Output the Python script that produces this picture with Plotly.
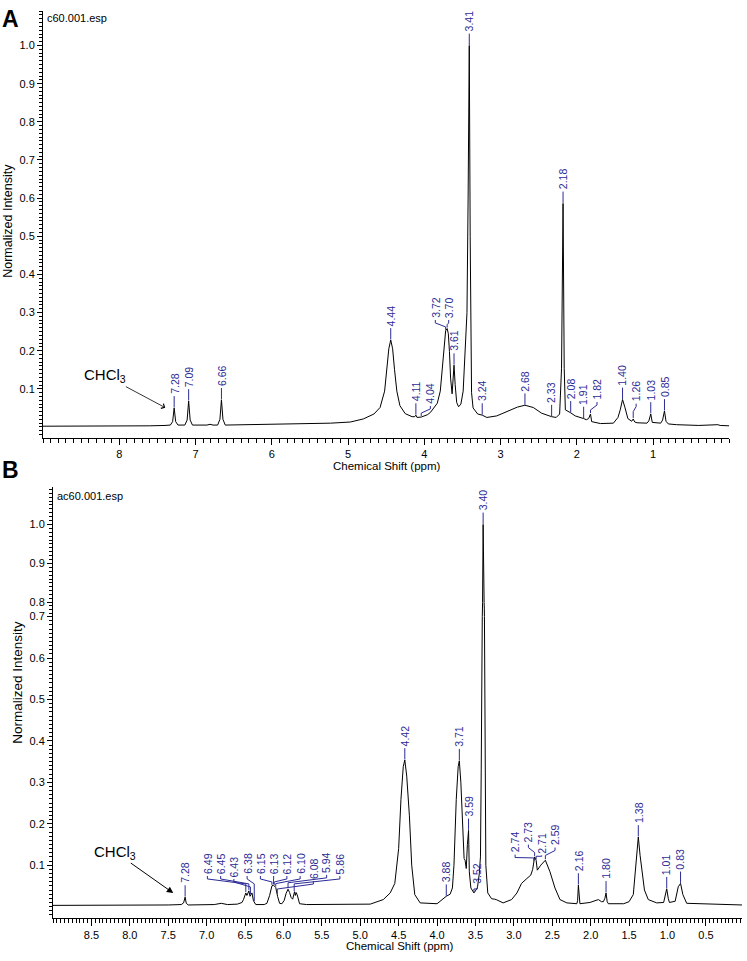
import numpy as np
import plotly.graph_objects as go

FONT = "Liberation Sans, Arial, sans-serif"
BLUE = "#2b2b96"
W, H = 747, 961

# ---- panel A: c60.001.esp (ppm, normalized intensity) ----
A_SHIFT = [9.00, 8.50, 8.00, 7.60, 7.40, 7.33, 7.30, 7.28, 7.26, 7.23, 7.14, 7.11, 7.09, 7.07, 7.04,
           6.85, 6.81, 6.77, 6.71, 6.68, 6.66, 6.64, 6.61, 6.20, 5.80, 5.50, 5.23, 4.97, 4.80, 4.66,
           4.58, 4.52, 4.49, 4.465, 4.44, 4.415, 4.39, 4.36, 4.32, 4.25, 4.16, 4.125, 4.11, 4.095, 4.04,
           3.96, 3.92, 3.86, 3.83, 3.79, 3.76, 3.735, 3.72, 3.70, 3.685, 3.67, 3.655, 3.635, 3.62, 3.61,
           3.595, 3.575, 3.55, 3.52, 3.49, 3.465, 3.45, 3.44, 3.425, 3.41, 3.398, 3.39, 3.38, 3.36, 3.30,
           3.24, 3.18, 3.05, 2.92, 2.78, 2.68, 2.57, 2.46, 2.33, 2.27, 2.225, 2.20, 2.18, 2.165, 2.15,
           2.08, 2.02, 1.91, 1.875, 1.845, 1.82, 1.805, 1.69, 1.52, 1.46, 1.43, 1.40, 1.37, 1.33, 1.28,
           1.26, 1.24, 1.21, 1.08, 1.055, 1.03, 1.01, 0.90, 0.875, 0.85, 0.83, 0.80, 0.69, 0.40, 0.20,
           0.15, 0.12, 0.00]
A_INTENSITY = [0.002, 0.002, 0.002, 0.003, 0.004, 0.005, 0.014, 0.050, 0.014, 0.005, 0.005, 0.018, 0.068, 0.018, 0.005,
               0.005, 0.007, 0.005, 0.005, 0.020, 0.071, 0.020, 0.005, 0.006, 0.007, 0.009, 0.010, 0.013, 0.021, 0.034,
               0.051, 0.094, 0.150, 0.205, 0.228, 0.205, 0.150, 0.094, 0.056, 0.035, 0.027, 0.027, 0.031, 0.025, 0.026,
               0.032, 0.038, 0.052, 0.062, 0.094, 0.163, 0.232, 0.252, 0.258, 0.245, 0.198, 0.128, 0.087, 0.128, 0.162,
               0.111, 0.064, 0.053, 0.060, 0.094, 0.198, 0.270, 0.300, 0.600, 1.000, 0.500, 0.200, 0.090, 0.050, 0.034,
               0.031, 0.025, 0.029, 0.040, 0.052, 0.057, 0.051, 0.036, 0.027, 0.025, 0.034, 0.154, 0.586, 0.154, 0.045,
               0.037, 0.029, 0.022, 0.019, 0.022, 0.034, 0.014, 0.009, 0.010, 0.025, 0.045, 0.072, 0.052, 0.022, 0.015,
               0.021, 0.013, 0.011, 0.010, 0.016, 0.034, 0.012, 0.010, 0.018, 0.042, 0.015, 0.008, 0.006, 0.004, 0.005,
               0.006, 0.004, 0.003]
A_LABELS = ["7.28", "7.09", "6.66", "4.44", "4.11", "4.04", "3.72", "3.70", "3.61", "3.41", "3.24",
            "2.68", "2.33", "2.18", "2.08", "1.91", "1.82", "1.40", "1.26", "1.03", "0.85"]
A_XTICKS = [8, 7, 6, 5, 4, 3, 2, 1]

# ---- panel B: ac60.001.esp ----
B_SHIFT = [9.00, 8.00, 7.50, 7.33, 7.30, 7.28, 7.265, 7.24, 6.90, 6.81, 6.73, 6.60, 6.54, 6.52, 6.505,
           6.49, 6.475, 6.46, 6.45, 6.435, 6.425, 6.41, 6.39, 6.36, 6.25, 6.215, 6.18, 6.15, 6.13, 6.10,
           6.075, 6.05, 6.02, 5.99, 5.965, 5.94, 5.92, 5.90, 5.88, 5.865, 5.855, 5.845, 5.835, 5.82, 5.79,
           5.70, 5.30, 4.87, 4.70, 4.61, 4.55, 4.50, 4.47, 4.44, 4.42, 4.395, 4.36, 4.33, 4.29, 4.22,
           4.00, 3.94, 3.88, 3.83, 3.80, 3.78, 3.75, 3.725, 3.71, 3.69, 3.665, 3.648, 3.635, 3.62, 3.605,
           3.59, 3.58, 3.56, 3.52, 3.475, 3.45, 3.435, 3.425, 3.415, 3.40, 3.385, 3.375, 3.365, 3.34, 3.29,
           3.25, 3.23, 3.14, 3.03, 2.96, 2.90, 2.83, 2.78, 2.755, 2.74, 2.73, 2.71, 2.695, 2.65, 2.59,
           2.53, 2.465, 2.40, 2.31, 2.18, 2.17, 2.16, 2.15, 2.14, 2.01, 1.95, 1.90, 1.86, 1.835, 1.815,
           1.80, 1.785, 1.77, 1.57, 1.50, 1.445, 1.415, 1.38, 1.357, 1.327, 1.30, 1.25, 1.14, 1.05, 1.03,
           1.01, 0.99, 0.975, 0.90, 0.86, 0.83, 0.80, 0.75, 0.53, 0.03]
B_INTENSITY = [0.003, 0.003, 0.004, 0.005, 0.009, 0.023, 0.008, 0.004, 0.005, 0.008, 0.005, 0.006, 0.010, 0.017, 0.028,
               0.033, 0.027, 0.035, 0.038, 0.025, 0.030, 0.033, 0.014, 0.005, 0.005, 0.008, 0.027, 0.050, 0.052, 0.046,
               0.024, 0.008, 0.007, 0.015, 0.032, 0.042, 0.034, 0.022, 0.018, 0.034, 0.036, 0.027, 0.034, 0.028, 0.007,
               0.005, 0.005, 0.006, 0.017, 0.033, 0.056, 0.140, 0.259, 0.338, 0.354, 0.315, 0.219, 0.100, 0.029, 0.009,
               0.007, 0.017, 0.025, 0.030, 0.045, 0.100, 0.259, 0.338, 0.352, 0.299, 0.180, 0.116, 0.112, 0.092, 0.150,
               0.184, 0.084, 0.045, 0.033, 0.045, 0.080, 0.120, 0.330, 0.760, 1.000, 0.760, 0.330, 0.100, 0.033, 0.019,
               0.018, 0.017, 0.009, 0.017, 0.033, 0.056, 0.068, 0.076, 0.090, 0.108, 0.120, 0.112, 0.088, 0.100, 0.112,
               0.084, 0.045, 0.017, 0.009, 0.007, 0.015, 0.052, 0.012, 0.007, 0.010, 0.013, 0.017, 0.012, 0.012, 0.020,
               0.033, 0.012, 0.007, 0.007, 0.012, 0.029, 0.100, 0.168, 0.124, 0.076, 0.040, 0.017, 0.009, 0.010, 0.025,
               0.043, 0.020, 0.010, 0.013, 0.048, 0.056, 0.029, 0.008, 0.007, 0.004]
B_CLUSTER = ["6.49", "6.45", "6.43", "6.38", "6.15", "6.13", "6.12", "6.10", "6.08", "5.94", "5.86"]
B_LABELS = ["7.28"] + B_CLUSTER + ["4.42", "3.88", "3.71", "3.59", "3.52", "3.40",
                                   "2.74", "2.73", "2.71", "2.59", "2.16", "1.80", "1.38", "1.01", "0.83"]
B_XTICKS = [8.5, 8.0, 7.5, 7.0, 6.5, 6.0, 5.5, 5.0, 4.5, 4.0, 3.5, 3.0, 2.5, 2.0, 1.5, 1.0, 0.5]
Y_TICKS = [0.1, 0.2, 0.3, 0.4, 0.5, 0.6, 0.7, 0.8, 0.9, 1.0]

# label placement where the text sits away from its peak: (text x in ppm, text bottom in intensity)
A_OFFSETS = {"4.04": (3.92, 0.0577), "3.72": (3.855, 0.283), "3.70": (3.68, 0.283),
             "1.82": (1.735, 0.068), "1.26": (1.222, 0.0637)}
B_OFFSETS = {"3.52": (3.475, 0.0524), "2.74": (2.984, 0.128), "2.73": (2.811, 0.152),
             "2.71": (2.637, 0.126), "2.59": (2.464, 0.145)}
for i, lbl in enumerate(B_CLUSTER):
    tb = {"6.08": 0.064, "6.43": 0.069, "5.94": 0.079}.get(lbl, 0.0763)
    B_OFFSETS[lbl] = (6.99 - i * 0.1725, tb)


def px_x(p):
    return p / W


def px_y(p):
    return 1 - p / H


fig = go.Figure()
fig.add_trace(go.Scatter(x=A_SHIFT, y=A_INTENSITY, mode="lines", line=dict(color="black", width=1),
                         xaxis="x", yaxis="y", hoverinfo="skip", showlegend=False))
for ya in ("y2", "y3", "y4"):
    fig.add_trace(go.Scatter(x=B_SHIFT, y=B_INTENSITY, mode="lines", line=dict(color="black", width=1),
                             xaxis="x2", yaxis=ya, hoverinfo="skip", showlegend=False))

shapes, annotations = [], []


def add_labels(labels, shift, inten, offsets, xref, yref_of, scale_of):
    xs = np.array(shift[::-1])
    ys = np.array(inten[::-1])
    for lbl in labels:
        p = float(lbl)
        yref = yref_of(lbl)
        s = scale_of(lbl)
        pv = float(np.interp(p, xs, ys))
        if lbl in offsets:
            lx, tb = offsets[lbl]
            knee = max(pv + 4 / s, tb - 9 / s)
            stub = max(tb - 4 / s, knee)
            path = "M {},{} L {},{} L {},{} L {},{}".format(
                lx, tb - 1 / s, lx, stub, p, knee, p, pv + 1 / s)
            shapes.append(dict(type="path", path=path, xref=xref, yref=yref,
                               line=dict(color=BLUE, width=1)))
        else:
            lx, tb = p, pv + 13 / s
            shapes.append(dict(type="line", x0=p, x1=p, y0=pv + 0.5 / s, y1=pv + 12 / s,
                               xref=xref, yref=yref, line=dict(color=BLUE, width=1)))
        annotations.append(dict(text=lbl, x=lx, y=tb, xref=xref, yref=yref, textangle=-90,
                                xanchor="center", yanchor="bottom", showarrow=False, borderpad=0,
                                font=dict(family=FONT, size=10.5, color=BLUE)))


add_labels(A_LABELS, A_SHIFT, A_INTENSITY, A_OFFSETS, "x",
           lambda l: "y", lambda l: 386.3)
add_labels(B_LABELS, B_SHIFT, B_INTENSITY, B_OFFSETS, "x2",
           lambda l: "y4" if l == "3.40" else "y2",
           lambda l: 395.0 if l == "3.40" else 419.5)


def text(t, x, y, size, angle=0, xanchor="center", bold=False):
    annotations.append(dict(text="<b>%s</b>" % t if bold else t, x=px_x(x), y=px_y(y),
                            xref="paper", yref="paper", showarrow=False, textangle=angle,
                            xanchor=xanchor, yanchor="middle",
                            font=dict(family=FONT, size=size, color="black")))


text("A", 10.5, 13.5, 23, bold=True)
text("B", 10.5, 470, 23, bold=True)
text("c60.001.esp", 44.5, 11.7, 11, xanchor="left")
text("ac60.001.esp", 54.5, 496, 11, xanchor="left")
text("Normalized Intensity", 8, 217.5, 12.5, angle=-90)
text("Normalized Intensity", 17.3, 685, 13.5, angle=-90)
text("Chemical Shift (ppm)", 386.5, 466, 11.5)
text("Chemical Shift (ppm)", 400, 952, 11.5)

annotations.append(dict(text="CHCl<sub>3</sub>", x=7.397, y=0.0507, xref="x", yref="y",
                        ax=-60, ay=-32, showarrow=True, arrowhead=4, arrowsize=1.3, arrowwidth=0.8,
                        arrowcolor="black", font=dict(family=FONT, size=15, color="black")))
annotations.append(dict(text="CHCl<sub>3</sub>", x=7.434, y=0.0327, xref="x2", yref="y2",
                        ax=-58, ay=-41, showarrow=True, arrowhead=2, arrowsize=1.3, arrowwidth=1,
                        arrowcolor="black", font=dict(family=FONT, size=15, color="black")))

axis = dict(showline=True, linecolor="black", linewidth=1, showgrid=False, zeroline=False,
            ticks="outside", tickcolor="black", tickwidth=1,
            tickfont=dict(family=FONT, size=11, color="black"))


def minor(step, length):
    return dict(tickmode="linear", tick0=0, dtick=step, ticks="outside", ticklen=length,
                tickcolor="black", tickwidth=1)


fig.update_layout(
    width=W, height=H, margin=dict(l=0, r=0, t=0, b=0),
    paper_bgcolor="white", plot_bgcolor="white", showlegend=False,
    shapes=shapes, annotations=annotations,
    xaxis=dict(axis, domain=[px_x(43), px_x(729.3)], range=[9.0, 0.0], anchor="y",
               tickmode="array", tickvals=A_XTICKS, ticktext=[str(v) for v in A_XTICKS],
               ticklen=6, minor=minor(0.1, 4)),
    yaxis=dict(axis, domain=[px_y(437), px_y(5)], range=[-0.0277, 1.0906], anchor="x",
               tickmode="array", tickvals=Y_TICKS, ticktext=["%.1f" % v for v in Y_TICKS],
               ticklen=5, minor=minor(0.01, 3)),
    xaxis2=dict(axis, domain=[px_x(53), px_x(742)], range=[9.0, 0.03], anchor="y2",
                tickmode="array", tickvals=B_XTICKS, ticktext=["%.1f" % v for v in B_XTICKS],
                ticklen=7, minor=minor(0.05, 4)),
    yaxis2=dict(axis, domain=[px_y(923.3), px_y(618.3)], range=[-0.0269, 0.7], anchor="x2",
                tickmode="array", tickvals=Y_TICKS[:7], ticktext=["%.1f" % v for v in Y_TICKS[:7]],
                ticklen=5, minor=minor(0.01, 3)),
    yaxis3=dict(axis, domain=[px_y(618.3), px_y(604)], range=[0.7, 0.8], anchor="x2",
                tickmode="linear", tick0=0.7, dtick=0.025, ticklen=3, showticklabels=False),
    yaxis4=dict(axis, domain=[px_y(604), px_y(487)], range=[0.8, 1.0962], anchor="x2",
                tickmode="array", tickvals=Y_TICKS[7:], ticktext=["%.1f" % v for v in Y_TICKS[7:]],
                ticklen=5, minor=minor(0.01, 3)),
)

# the page's default 8px body margin would shift the fixed-size figure off the 747x961 window
fig.write_html("out.html", config={"displayModeBar": False},
               post_script="document.body.style.margin='0px';")
